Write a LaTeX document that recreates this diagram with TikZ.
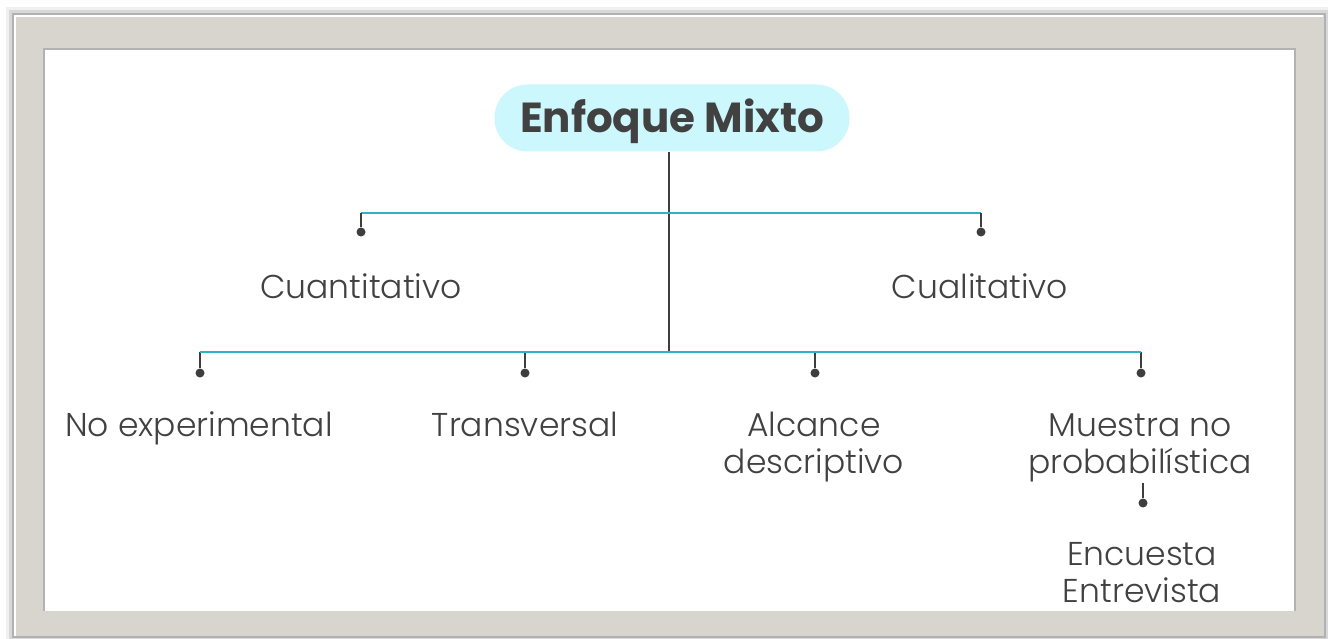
\documentclass[tikz,border=0pt]{standalone}
\usepackage{fontspec}
\setmainfont{Poppins}
\newfontfamily\lightfont{Poppins Light}
\usetikzlibrary{positioning}
\definecolor{busc}{HTML}{2BB3C7}
\definecolor{stemc}{HTML}{3E3E3E}
\definecolor{pillc}{HTML}{CCF7FC}
\definecolor{framec}{HTML}{D8D5CE}
\definecolor{txtc}{HTML}{414141}
\tikzset{>=stealth}

\begin{document}
\begin{tikzpicture}[x=1pt, y=-1pt,
    bus/.style={draw=busc, line width=2pt},
    stem/.style={draw=stemc, line width=2pt},
    dot/.style={circle, fill=stemc, inner sep=0pt, minimum size=9pt},
    leaf/.style={text=txtc, font=\lightfont\fontsize{33}{37}\selectfont, align=center, inner sep=1pt},
    root/.style={fill=pillc, rounded corners=33pt, minimum width=355pt, minimum height=67pt, text=txtc, font=\fontsize{42}{48}\selectfont\bfseries}]
    \useasboundingbox (0,0) rectangle (1328,639);
    % frame
    \foreach \d/\o in {8/.06, 5/.1, 2/.18}
        \fill[black, opacity=\o] (14-\d,15-\d) rectangle (1324+\d,636+\d);
    \fill[framec] (14,15) rectangle (1324,636);
    \draw[white, line width=1.5pt] (15,636) -- (15,16) -- (1323,16);
    \fill[white] (44,49) rectangle (1295,611);
    \draw[black!30, line width=2pt] (44,611) -- (44,49) -- (1295,49) -- (1295,611);
    \fill[white] (46,52) rectangle (1293,610);
    
    \node[root] (root) at (672,118) {};
    \node[text=txtc, font=\fontsize{42}{48}\selectfont\bfseries, anchor=base] (roott) at (672,133) {Enfoque Mixto};
    
    \coordinate (b1l) at (361,213);
    \coordinate (b1r) at (981,213);
    \coordinate (b2) at (669,352);
    \draw[stem] (root.south -| b2) -- (b2);
    \draw[bus] (b1l) -- (b1r);
    \node[dot] (dcuan) at (361,232) {};
    \node[dot] (dcual) at (981,232) {};
    \draw[stem] (b1l) -- (dcuan);
    \draw[stem] (b1r) -- (dcual);
    \node[leaf, anchor=base] (cuan) at (361,298) {Cuantitativo};
    \node[leaf, anchor=base] (cual) at (980,298) {Cualitativo};
    
    \foreach \x/\n in {200/nexp, 525/trans, 815/alc, 1141/mues}
    {
        \coordinate (b\n) at (\x,352);
        \node[dot] (d\n) at (\x,373) {};
        \draw[stem] (b\n) -- (d\n);
    }
    \draw[bus] (bnexp) -- (bmues);
    
    \node[leaf, anchor=base] (nexp) at (199,436) {No experimental};
    \node[leaf, anchor=base] (trans) at (525,436) {Transversal};
    \node[leaf, anchor=base] (alc) at (814,473) {Alcance\\descriptivo};
    \node[leaf, anchor=base] (mues) at (1140,473) {Muestra no\\probabilística};
    
    \node[dot] (denc) at (1143,503) {};
    \draw[stem] (denc |- mues.south) -- (denc);
    \node[leaf, anchor=base] (enc) at (1142,602) {Encuesta\\Entrevista};
\end{tikzpicture}
\end{document}
